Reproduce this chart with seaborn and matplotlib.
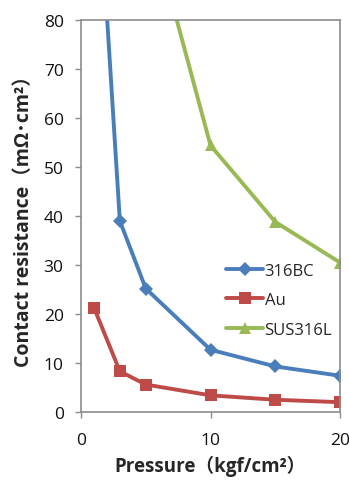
import matplotlib
matplotlib.use("Agg")
import matplotlib.pyplot as plt
import seaborn as sns
import pandas as pd

# Contact resistance vs. clamping pressure
pressure_bc = [1, 3, 5, 10, 15, 20]
res_316bc = [123.0, 39.0, 25.2, 12.7, 9.3, 7.4]

pressure_au = [1, 3, 5, 10, 15, 20]
res_au = [21.3, 8.3, 5.6, 3.4, 2.5, 2.0]

pressure_sus = [5, 10, 15, 20]
res_sus = [103.5, 54.4, 38.8, 30.5]

series_names = ["316BC", "Au", "SUS316L"]
colors = ["#4A7EBB", "#BE4B48", "#98B954"]
markers = ["D", "s", "^"]
marker_sizes = [7, 9, 9]

x_ticks = [0, 10, 20]
y_ticks = [0, 10, 20, 30, 40, 50, 60, 70, 80]

sns.set_style("white")
plt.rcParams["font.family"] = ["Open Sans", "Noto Sans CJK JP", "DejaVu Sans"]

fig = plt.figure(figsize=(3.49, 4.81), dpi=100)
ax = fig.add_axes([81 / 349, 68 / 481, 259 / 349, 392 / 481])

frames = [
    pd.DataFrame({"p": pressure_bc, "r": res_316bc}),
    pd.DataFrame({"p": pressure_au, "r": res_au}),
    pd.DataFrame({"p": pressure_sus, "r": res_sus}),
]
for df, name, c, m, ms in zip(frames, series_names, colors, markers, marker_sizes):
    sns.lineplot(data=df, x="p", y="r", ax=ax, color=c, marker=m,
                 markersize=ms, markeredgewidth=0, linewidth=2.8, label=name)

ax.set_xlim(0, 20)
ax.set_ylim(0, 80)
ax.set_xticks(x_ticks)
ax.set_yticks(y_ticks)
ax.tick_params(axis="both", labelsize=12.5, length=4.5, width=1,
               color="#8C8C8C", direction="out", labelcolor="#111111")
ax.tick_params(axis="y", pad=8)
ax.tick_params(axis="x", pad=10)
ax.xaxis.set_ticks_position("bottom")
ax.yaxis.set_ticks_position("left")
for s in ax.spines.values():
    s.set_color("#8C8C8C")
    s.set_linewidth(1.2)

ax.set_xlabel("Pressure（kgf/cm²）", fontsize=13.5, fontweight="bold", labelpad=5)
ax.set_ylabel("Contact resistance（mΩ･cm²）", fontsize=14, fontweight="bold", labelpad=7)

leg = ax.legend(loc="center left", bbox_to_anchor=(0.535, 0.285), frameon=False,
                fontsize=12, handlelength=2.2, labelspacing=0.8,
                handletextpad=0.1, borderaxespad=0)

fig.savefig("out.png", dpi=100)
